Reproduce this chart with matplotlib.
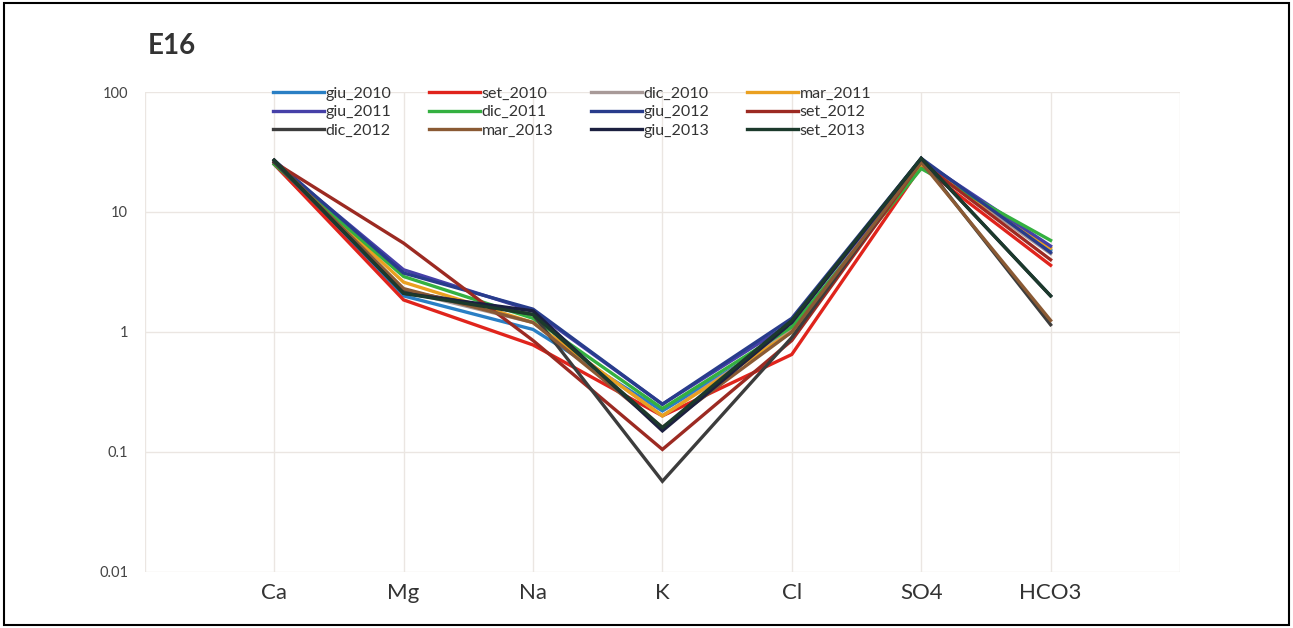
import matplotlib.pyplot as plt
from matplotlib.patches import Rectangle

plt.rcParams['font.family'] = ['Lato', 'DejaVu Sans']

ions = ['Ca', 'Mg', 'Na', 'K', 'Cl', 'SO4', 'HCO3']

# meq/l per campaign, in ion order
giu_2010 = [25, 2.0, 1.05, 0.22, 1.0, 25, 4.8]
set_2010 = [25, 1.85, 0.78, 0.20, 0.65, 24, 3.6]
dic_2010 = [26, 2.2, 1.2, 0.20, 1.05, 26, 4.5]
mar_2011 = [26, 2.6, 1.2, 0.20, 1.0, 25, 5.0]
giu_2011 = [26, 3.3, 1.5, 0.25, 1.2, 27, 5.2]
dic_2011 = [25, 2.9, 1.3, 0.23, 1.1, 23, 5.8]
giu_2012 = [27, 3.1, 1.55, 0.25, 1.3, 28, 4.6]
set_2012 = [26, 5.5, 0.85, 0.105, 0.85, 26, 4.0]
dic_2012 = [26, 2.2, 1.4, 0.057, 0.9, 27, 1.15]
mar_2013 = [27, 2.3, 1.2, 0.16, 1.0, 26, 1.25]
giu_2013 = [27, 2.1, 1.5, 0.15, 1.2, 28, 2.0]
set_2013 = [27, 2.1, 1.4, 0.16, 1.25, 28, 2.0]

series = [
    ('giu_2010', giu_2010, '#2a7fc4'),
    ('set_2010', set_2010, '#e0241c'),
    ('dic_2010', dic_2010, '#a89a98'),
    ('mar_2011', mar_2011, '#eaa020'),
    ('giu_2011', giu_2011, '#4640a8'),
    ('dic_2011', dic_2011, '#34b040'),
    ('giu_2012', giu_2012, '#283c8c'),
    ('set_2012', set_2012, '#9c2a22'),
    ('dic_2012', dic_2012, '#3c3c3c'),
    ('mar_2013', mar_2013, '#8a5a34'),
    ('giu_2013', giu_2013, '#1c2040'),
    ('set_2013', set_2013, '#1c3a2c'),
]

fig = plt.figure(figsize=(12.93, 6.28), dpi=100)
ax = fig.add_axes([0.112, 0.0892, 0.8006, 0.7643])

x = list(range(len(ions)))
lines = []
for name, vals, col in series:
    ln, = ax.plot(x, vals, color=col, lw=2.4, label=name, solid_joinstyle='miter')
    lines.append(ln)

ax.set_yscale('log')
ax.set_ylim(0.01, 100)
ax.set_xlim(-1, 7)
ax.set_yticks([0.01, 0.1, 1, 10, 100])
ax.set_yticklabels(['0.01', '0.1', '1', '10', '100'])
ax.minorticks_off()
ax.set_xticks(list(range(-1, 8)), minor=True)
ax.set_xticks(x)
ax.set_xticklabels(ions, fontsize=16, color='#333333')
ax.tick_params(axis='y', labelsize=10.5, colors='#444444', length=0, pad=12)
ax.tick_params(axis='x', which='both', length=0, pad=8)
ax.grid(True, which='major', axis='y', color='#ebe6e2', lw=1)
ax.grid(True, which='both', axis='x', color='#ebe6e2', lw=1)
for s in ax.spines.values():
    s.set_visible(False)

fig.text(0.114, 0.926, 'E16', fontsize=20, fontweight='bold', color='#333333',
         va='center', ha='left')

# legend filled row by row, four per row
order = [0, 4, 8, 1, 5, 9, 2, 6, 10, 3, 7, 11]
leg = fig.legend([lines[i] for i in order], [series[i][0] for i in order],
                 loc='upper left', bbox_to_anchor=(0.206, 0.872), ncol=4,
                 frameon=False, fontsize=11.5, handlelength=3.2, handletextpad=0.1,
                 columnspacing=2.35, labelspacing=0.26, borderaxespad=0)
for t in leg.get_texts():
    t.set_color('#333333')

fig.patches.append(Rectangle((0.003, 0.005), 0.994, 0.99, transform=fig.transFigure,
                             fill=False, edgecolor='black', lw=1.5))

fig.savefig('out.png', dpi=100)
